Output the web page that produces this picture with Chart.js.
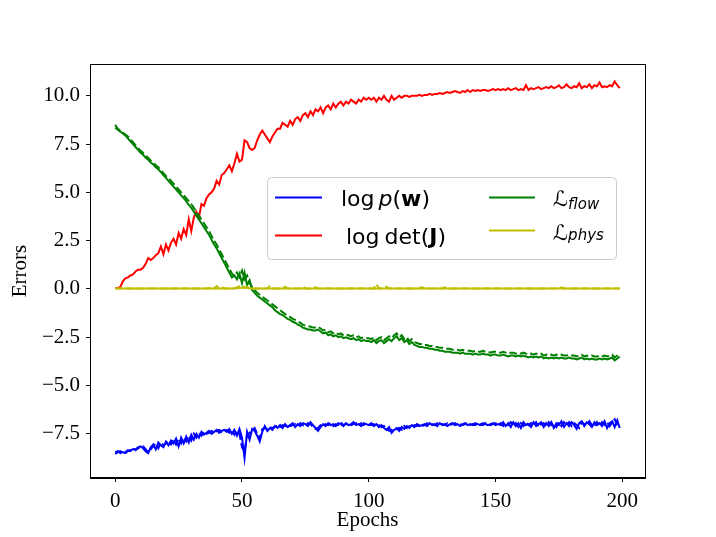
<!DOCTYPE html>
<html>
<head>
<meta charset="utf-8">
<script src="https://cdn.jsdelivr.net/npm/chart.js@4.4.1/dist/chart.umd.min.js"></script>
<style>
  html, body { margin: 0; padding: 0; background: #ffffff; }
  #wrap { width: 716px; height: 537px; }
</style>
</head>
<body>
<div id="wrap"><canvas id="errChart" width="716" height="537"></canvas></div>
<script>
// epochs 0..199
const epochs = Array.from({ length: 200 }, (_, i) => i);
const xTicks = [0, 50, 100, 150, 200];
const yTicks = [-7.5, -5.0, -2.5, 0.0, 2.5, 5.0, 7.5, 10.0];

const logDetJ = [
  0.05, 0.05, 0.1, 0.4, 0.55, 0.6, 0.7, 0.75, 0.9, 1.0, 1.0, 1.1, 1.3, 1.6, 1.5, 1.6, 1.75, 1.85, 2.2, 1.8,
  2.3, 2.0, 2.4, 2.6, 2.3, 2.9, 2.6, 3.1, 2.8, 3.6, 3.0, 3.7, 4.0, 3.7, 4.4, 4.3, 4.7, 4.9, 5.0, 5.2,
  5.6, 5.4, 5.9, 6.0, 6.2, 6.4, 6.1, 6.5, 7.0, 6.6, 6.7, 7.7, 7.6, 7.3, 7.2, 7.3, 7.7, 8.0, 8.2, 8.0,
  7.8, 7.6, 7.9, 8.1, 8.3, 8.3, 8.6, 8.5, 8.4, 8.7, 8.5, 8.8, 8.9, 8.7, 9.0, 9.1, 8.9, 9.2, 9.0, 9.3,
  9.2, 9.4, 9.1, 9.4, 9.5, 9.3, 9.6, 9.4, 9.6, 9.7, 9.5, 9.7, 9.6, 9.8, 9.7, 9.6, 9.8, 9.7, 9.9, 9.8,
  9.9, 9.8, 9.9, 9.7, 9.9, 9.8, 10.0, 9.8, 9.7, 10.0, 9.8, 9.9, 10.0, 9.9, 10.0, 10.0, 9.95, 10.0, 10.0, 10.0,
  10.05, 10.0, 10.05, 10.05, 10.1, 10.05, 10.1, 10.1, 10.15, 10.1, 10.15, 10.2, 10.15, 10.2, 10.25, 10.2, 10.15, 10.25, 10.2, 10.3,
  10.2, 10.3, 10.25, 10.3, 10.25, 10.3, 10.3, 10.25, 10.3, 10.35, 10.3, 10.35, 10.3, 10.35, 10.3, 10.4, 10.3, 10.35, 10.4, 10.3,
  10.35, 10.3, 10.55, 10.3, 10.4, 10.35, 10.4, 10.45, 10.35, 10.4, 10.45, 10.4, 10.5, 10.4, 10.45, 10.55, 10.4, 10.45, 10.6, 10.45,
  10.4, 10.5, 10.45, 10.65, 10.4, 10.5, 10.45, 10.6, 10.4, 10.55, 10.5, 10.7, 10.45, 10.5, 10.45, 10.55, 10.5, 10.75, 10.55, 10.4
];

const flowTrain = [
  8.35, 8.25, 8.15, 8.05, 7.95, 7.8, 7.65, 7.5, 7.35, 7.2, 7.05, 6.95, 6.8, 6.7, 6.55, 6.45, 6.3, 6.2, 6.05, 5.9,
  5.75, 5.6, 5.45, 5.3, 5.15, 5.0, 4.85, 4.7, 4.55, 4.35, 4.2, 4.0, 3.8, 3.6, 3.4, 3.2, 3.0, 2.8, 2.55, 2.3,
  2.1, 1.85, 1.6, 1.35, 1.1, 0.85, 0.6, 0.7, 0.5, 0.8, 0.3, 0.85, 0.2, 0.45, -0.05, -0.2, -0.35, -0.45, -0.55, -0.65,
  -0.75, -0.85, -0.95, -1.1, -1.2, -1.3, -1.35, -1.45, -1.55, -1.6, -1.7, -1.75, -1.85, -1.9, -2.0, -2.05, -2.1, -2.1, -2.15, -2.15,
  -2.1, -2.2, -2.3, -2.25, -2.4, -2.35, -2.45, -2.4, -2.5, -2.45, -2.55, -2.5, -2.55, -2.6, -2.55, -2.65, -2.6, -2.7, -2.65, -2.7,
  -2.7, -2.75, -2.65, -2.8, -2.7, -2.65, -2.8, -2.7, -2.6, -2.7, -2.55, -2.45, -2.65, -2.55, -2.75, -2.65, -2.85, -2.75, -2.9, -2.95,
  -3.0, -3.0, -3.05, -3.05, -3.1, -3.1, -3.15, -3.15, -3.2, -3.2, -3.25, -3.25, -3.25, -3.3, -3.3, -3.3, -3.35, -3.3, -3.35, -3.35,
  -3.35, -3.4, -3.35, -3.4, -3.4, -3.35, -3.4, -3.4, -3.45, -3.4, -3.4, -3.45, -3.45, -3.4, -3.45, -3.5, -3.45, -3.45, -3.5, -3.45,
  -3.5, -3.45, -3.5, -3.55, -3.5, -3.55, -3.5, -3.55, -3.5, -3.6, -3.55, -3.6, -3.55, -3.6, -3.55, -3.6, -3.55, -3.6, -3.6, -3.55,
  -3.6, -3.6, -3.65, -3.6, -3.55, -3.65, -3.6, -3.65, -3.6, -3.65, -3.65, -3.6, -3.65, -3.6, -3.65, -3.6, -3.55, -3.7, -3.6, -3.5
];

const flowVal = [
  8.5, 8.3, 8.2, 8.1, 8.0, 7.9, 7.75, 7.6, 7.45, 7.3, 7.15, 7.05, 6.9, 6.8, 6.65, 6.55, 6.4, 6.3, 6.15, 6.0,
  5.85, 5.75, 5.6, 5.45, 5.3, 5.15, 5.0, 4.85, 4.7, 4.55, 4.4, 4.2, 4.0, 3.8, 3.6, 3.4, 3.2, 3.0, 2.75, 2.5,
  2.3, 2.05, 1.8, 1.55, 1.3, 1.05, 0.8, 0.65, 0.85, 0.6, 0.95, 0.5, 0.7, 0.3, 0.1, -0.05, -0.2, -0.3, -0.4, -0.5,
  -0.6, -0.7, -0.8, -0.9, -1.0, -1.1, -1.2, -1.3, -1.4, -1.45, -1.55, -1.6, -1.7, -1.75, -1.85, -1.9, -1.95, -1.95, -2.0, -2.0,
  -1.95, -2.05, -2.15, -2.1, -2.25, -2.2, -2.3, -2.25, -2.35, -2.3, -2.4, -2.35, -2.4, -2.45, -2.4, -2.5, -2.45, -2.55, -2.5, -2.55,
  -2.55, -2.6, -2.5, -2.65, -2.55, -2.5, -2.65, -2.55, -2.45, -2.55, -2.4, -2.3, -2.5, -2.4, -2.6, -2.5, -2.7, -2.6, -2.75, -2.8,
  -2.85, -2.85, -2.9, -2.9, -2.95, -2.95, -3.0, -3.0, -3.05, -3.05, -3.1, -3.1, -3.1, -3.15, -3.15, -3.15, -3.2, -3.15, -3.2, -3.2,
  -3.2, -3.25, -3.2, -3.25, -3.25, -3.2, -3.25, -3.25, -3.3, -3.25, -3.25, -3.3, -3.3, -3.25, -3.3, -3.35, -3.3, -3.3, -3.35, -3.3,
  -3.35, -3.3, -3.35, -3.4, -3.35, -3.4, -3.35, -3.4, -3.35, -3.45, -3.4, -3.45, -3.4, -3.45, -3.4, -3.45, -3.4, -3.45, -3.45, -3.4,
  -3.45, -3.45, -3.5, -3.45, -3.4, -3.5, -3.45, -3.5, -3.45, -3.5, -3.5, -3.45, -3.5, -3.45, -3.5, -3.45, -3.4, -3.55, -3.45, -3.35
];

const logPwTrain = [
  -8.45, -8.4, -8.5, -8.45, -8.5, -8.4, -8.35, -8.3, -8.3, -8.2, -8.15, -8.25, -8.4, -8.5, -8.2, -8.05, -8.3, -7.95, -8.1, -8.2,
  -7.9, -8.1, -7.85, -8.0, -7.75, -8.15, -7.7, -8.0, -7.65, -7.95, -7.55, -7.8, -7.5, -7.7, -7.4, -7.55, -7.45, -7.35, -7.5, -7.4,
  -7.3, -7.45, -7.35, -7.3, -7.4, -7.25, -7.5, -7.3, -7.6, -7.25, -7.7, -8.75, -7.4, -7.8, -7.25, -7.35, -7.6, -7.9, -7.4, -7.1,
  -7.35, -7.2, -7.3, -7.1, -7.2, -7.05, -7.2, -7.0, -7.15, -7.05, -6.95, -7.15, -7.0, -7.1, -6.95, -7.0, -7.1, -6.9, -7.05, -7.2,
  -7.35, -7.15, -7.0, -7.1, -6.95, -7.05, -7.0, -7.1, -6.95, -7.0, -7.1, -6.95, -7.05, -7.0, -6.9, -7.05, -7.0, -7.1, -6.95, -7.0,
  -7.05, -6.95, -7.1, -7.0, -7.15, -7.05, -7.2, -7.3, -7.15, -7.45, -7.3, -7.2, -7.35, -7.15, -7.25, -7.1, -7.2, -7.05, -7.15, -7.0,
  -7.1, -7.05, -7.0, -7.1, -6.95, -7.05, -7.0, -7.1, -6.95, -7.05, -7.0, -7.1, -7.0, -6.95, -7.05, -7.0, -7.1, -7.0, -6.95, -7.05,
  -7.0, -7.05, -6.95, -7.0, -7.05, -6.95, -7.0, -7.05, -7.0, -6.95, -7.05, -7.0, -7.05, -6.9, -7.1, -6.95, -7.15, -6.9, -7.1, -6.95,
  -7.2, -6.9, -7.05, -7.0, -7.15, -6.9, -7.1, -7.0, -6.9, -7.15, -6.95, -7.1, -6.9, -7.2, -6.95, -7.05, -6.85, -7.15, -6.95, -7.1,
  -6.9, -7.05, -7.25, -6.95, -6.85, -7.1, -6.9, -7.0, -7.15, -6.9, -7.05, -6.95, -7.1, -6.85, -7.2, -6.95, -6.85, -7.15, -6.8, -7.2
];

const logPwVal = [
  -8.55, -8.45, -8.4, -8.5, -8.45, -8.35, -8.4, -8.25, -8.35, -8.25, -8.2, -8.15, -8.3, -8.45, -8.3, -8.15, -8.0, -8.25, -7.95, -8.1,
  -8.0, -7.85, -8.05, -7.8, -8.05, -7.75, -8.0, -7.7, -7.9, -7.6, -7.85, -7.5, -7.7, -7.45, -7.6, -7.4, -7.5, -7.45, -7.35, -7.45,
  -7.35, -7.3, -7.4, -7.35, -7.3, -7.45, -7.3, -7.55, -7.35, -7.5, -8.2, -8.4, -7.6, -7.45, -7.35, -7.2, -7.5, -7.75, -7.25, -7.2,
  -7.25, -7.15, -7.2, -7.15, -7.05, -7.15, -7.05, -7.1, -7.0, -7.1, -7.05, -7.0, -7.1, -6.95, -7.05, -7.1, -6.95, -7.0, -7.15, -7.25,
  -7.2, -7.05, -7.1, -7.0, -7.05, -6.95, -7.1, -7.0, -7.05, -6.9, -7.05, -7.0, -6.95, -7.05, -7.0, -6.95, -7.05, -6.95, -7.05, -6.95,
  -7.0, -7.05, -7.0, -7.1, -7.05, -7.15, -7.1, -7.25, -7.35, -7.3, -7.4, -7.25, -7.2, -7.3, -7.1, -7.2, -7.1, -7.15, -7.05, -7.1,
  -7.0, -7.1, -7.05, -6.95, -7.05, -7.0, -7.05, -6.95, -7.05, -7.0, -7.05, -6.95, -7.05, -7.0, -6.95, -7.05, -7.0, -7.05, -7.0, -6.95,
  -7.05, -7.0, -7.05, -6.95, -7.0, -7.05, -6.95, -7.0, -7.05, -7.0, -6.95, -7.05, -6.95, -7.1, -6.95, -7.05, -6.9, -7.1, -6.95, -7.15,
  -6.95, -7.1, -6.9, -7.05, -6.95, -7.1, -6.9, -7.15, -7.0, -6.95, -7.1, -6.9, -7.05, -6.95, -7.15, -6.9, -7.1, -6.9, -7.05, -6.9,
  -7.1, -6.95, -7.05, -7.2, -6.9, -7.0, -7.1, -6.85, -7.05, -7.1, -6.9, -7.1, -6.9, -7.05, -6.9, -7.1, -6.9, -6.75, -7.05, -7.1
];

const physTrain = [
  0.02, 0.02, 0.02, 0.02, 0.02, 0.02, 0.02, 0.02, 0.02, 0.02, 0.02, 0.02, 0.02, 0.02, 0.02, 0.02, 0.02, 0.02, 0.02, 0.02,
  0.02, 0.02, 0.02, 0.02, 0.02, 0.02, 0.02, 0.02, 0.02, 0.02, 0.02, 0.02, 0.02, 0.02, 0.02, 0.02, 0.02, 0.02, 0.03, 0.02,
  0.03, 0.02, 0.03, 0.02, 0.02, 0.03, 0.02, 0.03, 0.04, 0.05, 0.06, 0.08, 0.05, 0.03, 0.02, 0.02, 0.03, 0.02, 0.02, 0.02,
  0.02, 0.02, 0.02, 0.02, 0.02, 0.02, 0.02, 0.02, 0.02, 0.02, 0.02, 0.02, 0.02, 0.02, 0.02, 0.02, 0.02, 0.02, 0.02, 0.02,
  0.02, 0.02, 0.02, 0.02, 0.02, 0.02, 0.02, 0.02, 0.02, 0.02, 0.02, 0.02, 0.02, 0.02, 0.02, 0.02, 0.02, 0.02, 0.02, 0.02,
  0.02, 0.02, 0.02, 0.03, 0.02, 0.02, 0.02, 0.02, 0.02, 0.02, 0.02, 0.02, 0.02, 0.02, 0.02, 0.02, 0.02, 0.02, 0.02, 0.02,
  0.02, 0.02, 0.02, 0.02, 0.02, 0.02, 0.02, 0.02, 0.02, 0.02, 0.02, 0.02, 0.02, 0.02, 0.02, 0.02, 0.02, 0.02, 0.02, 0.02,
  0.02, 0.02, 0.02, 0.02, 0.02, 0.02, 0.02, 0.02, 0.02, 0.02, 0.02, 0.02, 0.02, 0.02, 0.02, 0.02, 0.02, 0.02, 0.02, 0.02,
  0.02, 0.02, 0.02, 0.02, 0.02, 0.02, 0.02, 0.02, 0.02, 0.02, 0.02, 0.02, 0.02, 0.02, 0.02, 0.02, 0.02, 0.02, 0.02, 0.02,
  0.02, 0.02, 0.02, 0.02, 0.02, 0.02, 0.02, 0.02, 0.02, 0.02, 0.02, 0.02, 0.02, 0.02, 0.02, 0.02, 0.02, 0.02, 0.02, 0.02
];

const physVal = [
  0.03, 0.03, 0.03, 0.03, 0.03, 0.03, 0.03, 0.03, 0.03, 0.03, 0.03, 0.03, 0.03, 0.03, 0.03, 0.03, 0.03, 0.03, 0.03, 0.03,
  0.03, 0.03, 0.03, 0.03, 0.03, 0.03, 0.03, 0.03, 0.03, 0.03, 0.03, 0.03, 0.03, 0.03, 0.03, 0.03, 0.03, 0.03, 0.12, 0.03,
  0.15, 0.03, 0.1, 0.03, 0.03, 0.03, 0.03, 0.05, 0.08, 0.15, 0.2, 0.06, 0.12, 0.03, 0.03, 0.03, 0.03, 0.03, 0.03, 0.03,
  0.03, 0.15, 0.03, 0.03, 0.03, 0.03, 0.03, 0.12, 0.03, 0.03, 0.03, 0.03, 0.03, 0.03, 0.12, 0.03, 0.03, 0.03, 0.03, 0.1,
  0.03, 0.03, 0.03, 0.03, 0.03, 0.03, 0.03, 0.03, 0.03, 0.03, 0.03, 0.03, 0.03, 0.03, 0.03, 0.03, 0.03, 0.03, 0.03, 0.03,
  0.03, 0.03, 0.03, 0.25, 0.03, 0.03, 0.03, 0.12, 0.03, 0.03, 0.03, 0.03, 0.03, 0.03, 0.03, 0.03, 0.03, 0.03, 0.03, 0.03,
  0.03, 0.1, 0.03, 0.03, 0.03, 0.03, 0.03, 0.03, 0.03, 0.03, 0.08, 0.03, 0.03, 0.03, 0.03, 0.03, 0.03, 0.03, 0.03, 0.03,
  0.03, 0.03, 0.03, 0.03, 0.03, 0.03, 0.03, 0.03, 0.03, 0.03, 0.03, 0.03, 0.03, 0.03, 0.03, 0.03, 0.03, 0.03, 0.03, 0.03,
  0.03, 0.03, 0.03, 0.03, 0.03, 0.03, 0.03, 0.03, 0.03, 0.03, 0.03, 0.03, 0.03, 0.03, 0.03, 0.03, 0.08, 0.03, 0.03, 0.03,
  0.03, 0.03, 0.03, 0.03, 0.03, 0.03, 0.03, 0.03, 0.03, 0.03, 0.03, 0.03, 0.03, 0.03, 0.03, 0.03, 0.03, 0.03, 0.03, 0.03
];

const serif = "'Liberation Serif', 'Times New Roman', serif";
const sans = "'DejaVu Sans', sans-serif";

function series(values, color, dashed, order) {
  return {
    data: values,
    borderColor: color,
    backgroundColor: color,
    borderWidth: 2,
    borderDash: dashed ? [7.7, 3.3] : [],
    pointRadius: 0,
    tension: 0,
    order: order
  };
}

// draw a run of text pieces with different fonts, left to right
function drawPieces(ctx, x, y, pieces) {
  pieces.forEach(p => {
    ctx.font = p.font;
    ctx.fillText(p.text, x, y + (p.dy || 0));
    x += ctx.measureText(p.text).width + (p.gap || 0);
  });
}

function handle(ctx, x1, x2, y, color) {
  ctx.strokeStyle = color;
  ctx.lineWidth = 2;
  ctx.beginPath();
  ctx.moveTo(x1, y);
  ctx.lineTo(x2, y);
  ctx.stroke();
}

const frameAndLegend = {
  id: "frameAndLegend",
  afterDraw(chart) {
    const ctx = chart.ctx;
    const a = chart.chartArea;
    ctx.save();
    ctx.strokeStyle = "#000000";
    ctx.lineWidth = 1;
    ctx.strokeRect(a.left + 0.5, a.top + 0.5, a.right - a.left, a.bottom - a.top - 1);

    // legend box
    ctx.beginPath();
    ctx.roundRect(267.5, 177.5, 349, 82, 4);
    ctx.fillStyle = "rgba(255,255,255,0.8)";
    ctx.fill();
    ctx.strokeStyle = "#cccccc";
    ctx.stroke();

    handle(ctx, 275, 322, 197.5, "#0000ff");
    handle(ctx, 275, 322, 235.5, "#ff0000");
    handle(ctx, 489, 535, 197.5, "#008000");
    handle(ctx, 489, 535, 230.5, "#bfbf00");

    ctx.fillStyle = "#000000";
    ctx.textBaseline = "alphabetic";
    drawPieces(ctx, 341, 206, [
      { text: "log", font: "22px " + sans, gap: 4 },
      { text: "p", font: "italic 22px " + sans },
      { text: "(", font: "22px " + sans },
      { text: "w", font: "bold 22px " + sans },
      { text: ")", font: "22px " + sans }
    ]);
    drawPieces(ctx, 346, 244, [
      { text: "log", font: "22px " + sans, gap: 5 },
      { text: "det", font: "22px " + sans },
      { text: "(", font: "22px " + sans },
      { text: "J", font: "bold 22px " + sans },
      { text: ")", font: "22px " + sans }
    ]);
    drawPieces(ctx, 553, 206, [
      { text: "\u2112", font: "21px " + sans, gap: 0 },
      { text: "flow", font: "italic 15px " + sans, dy: 3 }
    ]);
    drawPieces(ctx, 553, 240, [
      { text: "\u2112", font: "21px " + sans, gap: 0 },
      { text: "phys", font: "italic 15px " + sans, dy: 0 }
    ]);
    ctx.restore();
  }
};

new Chart(document.getElementById("errChart"), {
  type: "line",
  data: {
    labels: epochs,
    datasets: [
      series(logPwTrain, "#0000ff", false, 7),
      series(logPwVal, "#0000ff", true, 6),
      series(logDetJ, "#ff0000", false, 5),
      series(flowTrain, "#008000", false, 4),
      series(flowVal, "#008000", true, 3),
      series(physTrain, "#bfbf00", false, 2),
      series(physVal, "#bfbf00", true, 1)
    ]
  },
  options: {
    responsive: false,
    animation: false,
    layout: { padding: { top: 64, right: 71, left: 0, bottom: 0 } },
    plugins: {
      legend: { display: false },
      tooltip: { enabled: false }
    },
    scales: {
      x: {
        type: "linear",
        min: -9.95,
        max: 208.95,
        afterBuildTicks: s => { s.ticks = xTicks.map(v => ({ value: v })); },
        afterFit: s => { s.height = 59; },
        grid: { drawOnChartArea: false, drawTicks: true, tickLength: 4, color: "#000000" },
        border: { display: true, color: "#000000", width: 1 },
        ticks: {
          color: "#000000",
          font: { family: serif, size: 21 },
          padding: 7,
          maxRotation: 0,
          autoSkip: false,
          callback: v => String(v)
        },
        title: {
          display: true,
          text: "Epochs",
          color: "#000000",
          font: { family: serif, size: 21 },
          padding: { top: 0, bottom: 4 }
        }
      },
      y: {
        min: -9.79,
        max: 11.65,
        afterBuildTicks: s => { s.ticks = yTicks.map(v => ({ value: v })); },
        afterFit: s => { s.width = 90; },
        grid: { drawOnChartArea: false, drawTicks: true, tickLength: 4, color: "#000000" },
        border: { display: true, color: "#000000", width: 1 },
        ticks: {
          color: "#000000",
          font: { family: serif, size: 21 },
          padding: 6,
          callback: v => v.toFixed(1).replace("-", "\u2212")
        },
        title: {
          display: true,
          text: "Errors",
          color: "#000000",
          font: { family: serif, size: 21 },
          padding: { top: 8, bottom: 0 }
        }
      }
    }
  },
  plugins: [frameAndLegend]
});
</script>
</body>
</html>
